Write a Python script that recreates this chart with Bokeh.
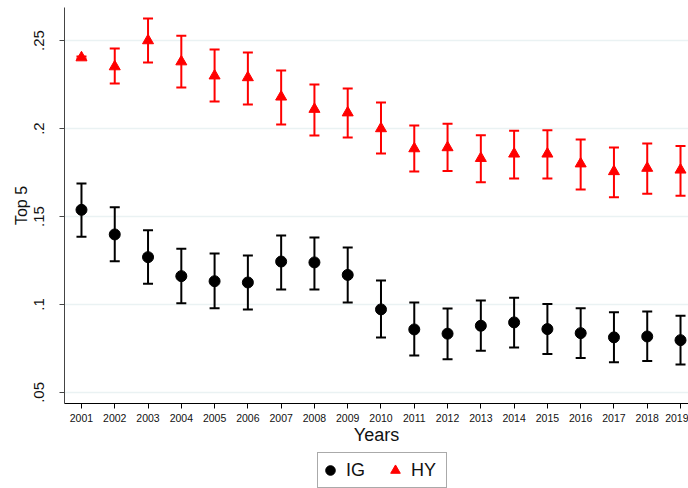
from bokeh.plotting import figure
from bokeh.layouts import column
from bokeh.models import (ColumnDataSource, Range1d, FixedTicker, Whisker, TeeHead,
                          Legend, LegendItem)
from bokeh.embed import file_html
from bokeh.resources import INLINE

years = list(range(2001, 2020))

ig_mean = [0.1538, 0.1398, 0.1269, 0.1161, 0.1132, 0.1125, 0.1244, 0.1239, 0.1168, 0.0972,
           0.0858, 0.0834, 0.0879, 0.0898, 0.0860, 0.0837, 0.0813, 0.0818, 0.0797]
ig_low = [0.1385, 0.1246, 0.1118, 0.1007, 0.0979, 0.0972, 0.1085, 0.1085, 0.1011, 0.0812,
          0.0710, 0.0689, 0.0737, 0.0756, 0.0718, 0.0695, 0.0672, 0.0678, 0.0659]
ig_high = [0.1688, 0.1553, 0.1422, 0.1317, 0.1290, 0.1278, 0.1392, 0.1380, 0.1324, 0.1136,
           0.1011, 0.0977, 0.1023, 0.1038, 0.1002, 0.0979, 0.0955, 0.0960, 0.0936]

hy_mean = [0.2403, 0.2352, 0.2500, 0.2380, 0.2300, 0.2290, 0.2180, 0.2110, 0.2090, 0.2000,
           0.1886, 0.1892, 0.1831, 0.1856, 0.1856, 0.1800, 0.1756, 0.1775, 0.1765]
hy_low = [0.2396, 0.2256, 0.2375, 0.2233, 0.2153, 0.2136, 0.2023, 0.1960, 0.1949, 0.1858,
          0.1756, 0.1758, 0.1695, 0.1716, 0.1716, 0.1653, 0.1610, 0.1629, 0.1618]
hy_high = [0.2410, 0.2455, 0.2625, 0.2528, 0.2449, 0.2432, 0.2330, 0.2250, 0.2227, 0.2148,
           0.2017, 0.2027, 0.1962, 0.1987, 0.1990, 0.1938, 0.1892, 0.1915, 0.1901]

y_ticks = [0.05, 0.10, 0.15, 0.20, 0.25]
y_tick_labels = [".05", ".1", ".15", ".2", ".25"]

FONT = "Liberation Sans"
TXT = "#111111"

ig_src = ColumnDataSource(dict(x=years, y=ig_mean, lo=ig_low, hi=ig_high))
hy_src = ColumnDataSource(dict(x=years, y=hy_mean, lo=hy_low, hi=hy_high))

p = figure(width=688, height=448, output_backend="svg", toolbar_location=None,
           x_range=Range1d(2000.49, 2019.24), y_range=Range1d(0.0437, 0.2688),
           min_border_left=64, min_border_right=0, min_border_top=7, min_border_bottom=45)
p.outline_line_color = None
p.background_fill_color = "white"
p.border_fill_color = "white"

# axes
p.xaxis.ticker = FixedTicker(ticks=years)
p.xaxis.axis_label = "Years"
p.xaxis.axis_label_text_font = FONT
p.xaxis.axis_label_text_font_style = "normal"
p.xaxis.axis_label_text_font_size = "18px"
p.xaxis.axis_label_text_color = TXT
p.xaxis.axis_label_standoff = 0
p.xaxis.major_label_text_font = FONT
p.xaxis.major_label_text_font_size = "10.5px"
p.xaxis.major_label_text_color = TXT
p.xaxis.major_label_standoff = 5
p.xaxis.major_tick_out = 5
p.xaxis.major_tick_in = 0
p.xaxis.minor_tick_line_color = None
p.xaxis.axis_line_color = "black"
p.xaxis.major_tick_line_color = "black"

p.yaxis.ticker = FixedTicker(ticks=y_ticks)
p.yaxis.major_label_overrides = {t: l for t, l in zip(y_ticks, y_tick_labels)}
p.yaxis.major_label_orientation = "vertical"
p.yaxis.axis_label = "Top 5"
p.yaxis.axis_label_text_font = FONT
p.yaxis.axis_label_text_font_style = "normal"
p.yaxis.axis_label_text_font_size = "16px"
p.yaxis.axis_label_text_color = TXT
p.yaxis.axis_label_standoff = 2
p.yaxis.major_label_text_font = FONT
p.yaxis.major_label_text_font_size = "15px"
p.yaxis.major_label_text_color = TXT
p.yaxis.major_label_standoff = 15
p.yaxis.major_tick_out = 5
p.yaxis.major_tick_in = 0
p.yaxis.minor_tick_line_color = None
p.yaxis.axis_line_color = "#444444"
p.yaxis.major_tick_line_color = "#444444"

p.xgrid.grid_line_color = None
p.ygrid.grid_line_color = "#eaf2f3"
p.ygrid.grid_line_width = 1.5

# error bars
for src, col in ((ig_src, "black"), (hy_src, "red")):
    w = Whisker(source=src, base="x", lower="lo", upper="hi", dimension="height",
                line_color=col, line_width=2,
                upper_head=TeeHead(size=10, line_color=col, line_width=2),
                lower_head=TeeHead(size=10, line_color=col, line_width=2))
    p.add_layout(w)

p.scatter("x", "y", source=ig_src, marker="circle", size=11,
          fill_color="black", line_color="black")
p.scatter("x", "y", source=hy_src, marker="triangle", size=11,
          fill_color="red", line_color="red")

# legend panel below the plot (its frame aligns with the main frame at x=64)
lg = figure(width=688, height=40, output_backend="svg", toolbar_location=None,
            x_axis_location=None, y_axis_location=None,
            x_range=Range1d(0, 1), y_range=Range1d(0, 1),
            min_border_left=0, min_border_right=0, min_border_top=0, min_border_bottom=0)
lg.outline_line_color = None
lg.xgrid.grid_line_color = None
lg.ygrid.grid_line_color = None
# off-screen proxy glyphs so the legend can draw its symbols
l_ig = lg.scatter(x=[-5], y=[-5], marker="circle", size=11, fill_color="black", line_color="black")
l_hy = lg.scatter(x=[-5], y=[-5], marker="triangle", size=9, fill_color="red", line_color="red")

legend = Legend(items=[LegendItem(label="IG", renderers=[l_ig]),
                       LegendItem(label="HY", renderers=[l_hy])],
                orientation="horizontal", location=(253, 0),
                label_text_font=FONT, label_text_font_size="18px", label_text_color=TXT,
                border_line_color="#555555", border_line_width=1.5,
                spacing=2, padding=0, margin=0, glyph_width=24, glyph_height=34,
                label_standoff=4, label_width=35)
lg.add_layout(legend, "center")

layout = column(p, lg, spacing=0)
open("out.html", "w").write(file_html(layout, INLINE))
